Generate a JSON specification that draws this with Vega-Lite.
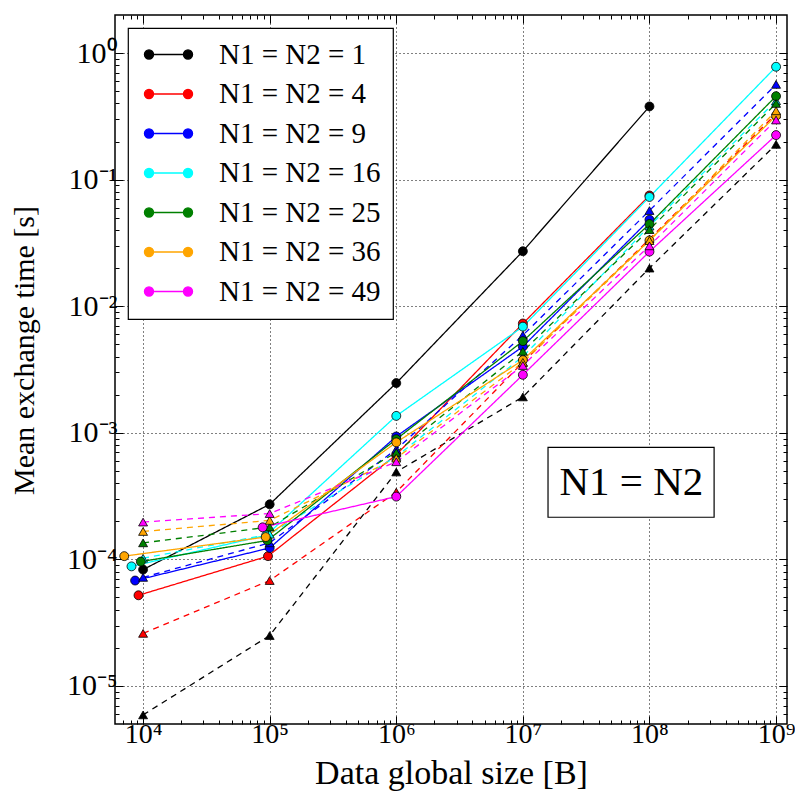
{
  "$schema": "https://vega.github.io/schema/vega-lite/v6.json",
  "width": 672,
  "height": 709,
  "autosize": "none",
  "padding": {"left": 115, "top": 15, "right": 8, "bottom": 72},
  "config": {
    "view": {"stroke": "black", "strokeWidth": 1.5},
    "font": "Liberation Serif",
    "axis": {
      "labelFont": "Liberation Serif",
      "labelFontSize": 30,
      "labelColor": "black",
      "labelOverlap": false,
      "labelFlush": false,
      "labelBound": false,
      "titleFont": "Liberation Serif",
      "titleFontWeight": "normal",
      "titleColor": "black",
      "domain": false,
      "tickColor": "black",
      "tickWidth": 1,
      "gridColor": "black",
      "gridDash": [1, 3],
      "gridWidth": 1
    },
    "legend": {
      "orient": "top-left",
      "offset": 13,
      "padding": 12,
      "strokeColor": "black",
      "strokeWidth": 1.2,
      "fillColor": "white",
      "cornerRadius": 0,
      "labelFont": "Liberation Serif",
      "labelFontSize": 29,
      "labelColor": "black",
      "labelLimit": 400,
      "rowPadding": 9.5,
      "symbolType": "M-1.5,0L1.5,0M-1.85,0a0.35,0.35 0 1,0 0.7,0a0.35,0.35 0 1,0 -0.7,0M1.15,0a0.35,0.35 0 1,0 0.7,0a0.35,0.35 0 1,0 -0.7,0",
      "symbolSize": 676,
      "symbolStrokeWidth": 1.3,
      "symbolOffset": 14,
      "labelOffset": 36
    }
  },
  "datasets": {
    "note": [
      {"x1": 1.58e7, "x2": 3.24e8, "y1": 2.15e-4, "y2": 7.67e-4, "tx": 7.2e7, "ty": 4.06e-4, "label": "N1 = N2"}
    ],
    "main": [
      {"series": "N1 = N2 = 1", "kind": "solid", "x": 1e4, "y": 8.3e-5},
      {"series": "N1 = N2 = 1", "kind": "solid", "x": 1e5, "y": 2.72e-4},
      {"series": "N1 = N2 = 1", "kind": "solid", "x": 1e6, "y": 2.47e-3},
      {"series": "N1 = N2 = 1", "kind": "solid", "x": 1e7, "y": 0.0272},
      {"series": "N1 = N2 = 1", "kind": "solid", "x": 1e8, "y": 0.379},
      {"series": "N1 = N2 = 1", "kind": "dashed", "x": 1e4, "y": 5.9e-6},
      {"series": "N1 = N2 = 1", "kind": "dashed", "x": 1e5, "y": 2.5e-5},
      {"series": "N1 = N2 = 1", "kind": "dashed", "x": 1e6, "y": 4.9e-4},
      {"series": "N1 = N2 = 1", "kind": "dashed", "x": 1e7, "y": 1.92e-3},
      {"series": "N1 = N2 = 1", "kind": "dashed", "x": 1e8, "y": 0.020},
      {"series": "N1 = N2 = 1", "kind": "dashed", "x": 1e9, "y": 0.19},

      {"series": "N1 = N2 = 4", "kind": "solid", "x": 9.2e3, "y": 5.2e-5},
      {"series": "N1 = N2 = 4", "kind": "solid", "x": 9.7e4, "y": 1.06e-4},
      {"series": "N1 = N2 = 4", "kind": "solid", "x": 1e6, "y": 6.7e-4},
      {"series": "N1 = N2 = 4", "kind": "solid", "x": 1e7, "y": 7.3e-3},
      {"series": "N1 = N2 = 4", "kind": "solid", "x": 1e8, "y": 0.075},
      {"series": "N1 = N2 = 4", "kind": "dashed", "x": 1e4, "y": 2.6e-5},
      {"series": "N1 = N2 = 4", "kind": "dashed", "x": 1e5, "y": 6.8e-5},
      {"series": "N1 = N2 = 4", "kind": "dashed", "x": 1e6, "y": 3.4e-4},
      {"series": "N1 = N2 = 4", "kind": "dashed", "x": 1e7, "y": 3.6e-3},
      {"series": "N1 = N2 = 4", "kind": "dashed", "x": 1e8, "y": 0.034},
      {"series": "N1 = N2 = 4", "kind": "dashed", "x": 1e9, "y": 0.33},

      {"series": "N1 = N2 = 9", "kind": "solid", "x": 8.65e3, "y": 6.8e-5},
      {"series": "N1 = N2 = 9", "kind": "solid", "x": 1e5, "y": 1.23e-4},
      {"series": "N1 = N2 = 9", "kind": "solid", "x": 1e6, "y": 9.35e-4},
      {"series": "N1 = N2 = 9", "kind": "solid", "x": 1e7, "y": 4.8e-3},
      {"series": "N1 = N2 = 9", "kind": "solid", "x": 1e8, "y": 0.0483},
      {"series": "N1 = N2 = 9", "kind": "dashed", "x": 1e4, "y": 7.2e-5},
      {"series": "N1 = N2 = 9", "kind": "dashed", "x": 1e5, "y": 1.35e-4},
      {"series": "N1 = N2 = 9", "kind": "dashed", "x": 1e6, "y": 7.4e-4},
      {"series": "N1 = N2 = 9", "kind": "dashed", "x": 1e7, "y": 5.9e-3},
      {"series": "N1 = N2 = 9", "kind": "dashed", "x": 1e8, "y": 0.057},
      {"series": "N1 = N2 = 9", "kind": "dashed", "x": 1e9, "y": 0.566},

      {"series": "N1 = N2 = 16", "kind": "solid", "x": 8.1e3, "y": 8.8e-5},
      {"series": "N1 = N2 = 16", "kind": "solid", "x": 9.4e4, "y": 1.55e-4},
      {"series": "N1 = N2 = 16", "kind": "solid", "x": 1e6, "y": 1.36e-3},
      {"series": "N1 = N2 = 16", "kind": "solid", "x": 1e7, "y": 6.9e-3},
      {"series": "N1 = N2 = 16", "kind": "solid", "x": 1e8, "y": 0.073},
      {"series": "N1 = N2 = 16", "kind": "solid", "x": 1e9, "y": 0.78},
      {"series": "N1 = N2 = 16", "kind": "dashed", "x": 1e4, "y": 1.02e-4},
      {"series": "N1 = N2 = 16", "kind": "dashed", "x": 1e5, "y": 1.58e-4},
      {"series": "N1 = N2 = 16", "kind": "dashed", "x": 1e6, "y": 6.5e-4},
      {"series": "N1 = N2 = 16", "kind": "dashed", "x": 1e7, "y": 4.0e-3},
      {"series": "N1 = N2 = 16", "kind": "dashed", "x": 1e8, "y": 0.043},
      {"series": "N1 = N2 = 16", "kind": "dashed", "x": 1e9, "y": 0.42},

      {"series": "N1 = N2 = 25", "kind": "solid", "x": 9.6e3, "y": 9.6e-5},
      {"series": "N1 = N2 = 25", "kind": "solid", "x": 9.6e4, "y": 1.41e-4},
      {"series": "N1 = N2 = 25", "kind": "solid", "x": 1e6, "y": 8.9e-4},
      {"series": "N1 = N2 = 25", "kind": "solid", "x": 1e7, "y": 5.3e-3},
      {"series": "N1 = N2 = 25", "kind": "solid", "x": 1e8, "y": 0.0446},
      {"series": "N1 = N2 = 25", "kind": "solid", "x": 1e9, "y": 0.457},
      {"series": "N1 = N2 = 25", "kind": "dashed", "x": 1e4, "y": 1.35e-4},
      {"series": "N1 = N2 = 25", "kind": "dashed", "x": 1e5, "y": 1.8e-4},
      {"series": "N1 = N2 = 25", "kind": "dashed", "x": 1e6, "y": 7.0e-4},
      {"series": "N1 = N2 = 25", "kind": "dashed", "x": 1e7, "y": 4.4e-3},
      {"series": "N1 = N2 = 25", "kind": "dashed", "x": 1e8, "y": 0.0403},
      {"series": "N1 = N2 = 25", "kind": "dashed", "x": 1e9, "y": 0.40},

      {"series": "N1 = N2 = 36", "kind": "solid", "x": 7.1e3, "y": 1.06e-4},
      {"series": "N1 = N2 = 36", "kind": "solid", "x": 9.3e4, "y": 1.5e-4},
      {"series": "N1 = N2 = 36", "kind": "solid", "x": 1e6, "y": 8.4e-4},
      {"series": "N1 = N2 = 36", "kind": "solid", "x": 1e7, "y": 3.75e-3},
      {"series": "N1 = N2 = 36", "kind": "solid", "x": 1e8, "y": 0.0331},
      {"series": "N1 = N2 = 36", "kind": "solid", "x": 1e9, "y": 0.32},
      {"series": "N1 = N2 = 36", "kind": "dashed", "x": 1e4, "y": 1.66e-4},
      {"series": "N1 = N2 = 36", "kind": "dashed", "x": 1e5, "y": 2.03e-4},
      {"series": "N1 = N2 = 36", "kind": "dashed", "x": 1e6, "y": 6.3e-4},
      {"series": "N1 = N2 = 36", "kind": "dashed", "x": 1e7, "y": 3.6e-3},
      {"series": "N1 = N2 = 36", "kind": "dashed", "x": 1e8, "y": 0.033},
      {"series": "N1 = N2 = 36", "kind": "dashed", "x": 1e9, "y": 0.35},

      {"series": "N1 = N2 = 49", "kind": "solid", "x": 8.8e4, "y": 1.79e-4},
      {"series": "N1 = N2 = 49", "kind": "solid", "x": 1e6, "y": 3.13e-4},
      {"series": "N1 = N2 = 49", "kind": "solid", "x": 1e7, "y": 2.87e-3},
      {"series": "N1 = N2 = 49", "kind": "solid", "x": 1e8, "y": 0.027},
      {"series": "N1 = N2 = 49", "kind": "solid", "x": 1e9, "y": 0.225},
      {"series": "N1 = N2 = 49", "kind": "dashed", "x": 1e4, "y": 1.97e-4},
      {"series": "N1 = N2 = 49", "kind": "dashed", "x": 1e5, "y": 2.3e-4},
      {"series": "N1 = N2 = 49", "kind": "dashed", "x": 1e6, "y": 5.9e-4},
      {"series": "N1 = N2 = 49", "kind": "dashed", "x": 1e7, "y": 3.4e-3},
      {"series": "N1 = N2 = 49", "kind": "dashed", "x": 1e8, "y": 0.030},
      {"series": "N1 = N2 = 49", "kind": "dashed", "x": 1e9, "y": 0.296}
    ]
  },
  "layer": [
    {
      "data": {"name": "note"},
      "mark": {"type": "rect", "fill": "white", "stroke": "black", "strokeWidth": 1.2},
      "encoding": {
        "x": {"field": "x1", "type": "quantitative", "scale": {"type": "log", "domain": [6000, 1.22e9], "nice": false}, "axis": null},
        "x2": {"field": "x2"},
        "y": {"field": "y1", "type": "quantitative", "scale": {"type": "log", "domain": [5e-6, 2], "nice": false}, "axis": null},
        "y2": {"field": "y2"}
      }
    },
    {
      "data": {"name": "note"},
      "mark": {"type": "text", "fontSize": 41, "font": "Liberation Serif", "color": "black", "baseline": "middle", "align": "center", "dy": 1},
      "encoding": {
        "x": {"field": "tx", "type": "quantitative", "scale": {"type": "log", "domain": [6000, 1.22e9], "nice": false}, "axis": null},
        "y": {"field": "ty", "type": "quantitative", "scale": {"type": "log", "domain": [5e-6, 2], "nice": false}, "axis": null},
        "text": {"field": "label"}
      }
    },
    {
      "data": {"name": "main"},
      "mark": {"type": "line", "strokeWidth": 1.3},
      "encoding": {
        "x": {
          "field": "x", "type": "quantitative",
          "scale": {"type": "log", "domain": [6000, 1.22e9], "nice": false},
          "axis": {
            "orient": "bottom",
            "title": "Data global size [B]",
            "titleFontSize": 34,
            "titlePadding": 4,
            "values": [7000, 8000, 9000, 1e4, 2e4, 3e4, 4e4, 5e4, 6e4, 7e4, 8e4, 9e4, 1e5, 2e5, 3e5, 4e5, 5e5, 6e5, 7e5, 8e5, 9e5, 1e6, 2e6, 3e6, 4e6, 5e6, 6e6, 7e6, 8e6, 9e6, 1e7, 2e7, 3e7, 4e7, 5e7, 6e7, 7e7, 8e7, 9e7, 1e8, 2e8, 3e8, 4e8, 5e8, 6e8, 7e8, 8e8, 9e8, 1e9],
            "labelExpr": "abs(log(datum.value)/LN10 - round(log(datum.value)/LN10)) < 0.001 ? ['10⁴','10⁵','10⁶','10⁷','10⁸','10⁹'][round(log(datum.value)/LN10)-4] : ''",
            "labelFontSize": 28,
            "labelPadding": 4,
            "labelDx": -1,
            "grid": true,
            "gridOpacity": {"condition": {"test": "abs(log(datum.value)/LN10 - round(log(datum.value)/LN10)) < 0.001", "value": 1}, "value": 0},
            "tickSize": {"condition": {"test": "abs(log(datum.value)/LN10 - round(log(datum.value)/LN10)) < 0.001", "value": -8}, "value": -4}
          }
        },
        "y": {
          "field": "y", "type": "quantitative",
          "scale": {"type": "log", "domain": [5e-6, 2], "nice": false},
          "axis": {
            "orient": "left",
            "title": "Mean exchange time [s]",
            "titleFontSize": 30,
            "titleX": -82,
            "titleY": 335,
            "titleBaseline": "alphabetic",
            "values": [6e-6, 7e-6, 8e-6, 9e-6, 1e-5, 2e-5, 3e-5, 4e-5, 5e-5, 6e-5, 7e-5, 8e-5, 9e-5, 1e-4, 2e-4, 3e-4, 4e-4, 5e-4, 6e-4, 7e-4, 8e-4, 9e-4, 1e-3, 2e-3, 3e-3, 4e-3, 5e-3, 6e-3, 7e-3, 8e-3, 9e-3, 0.01, 0.02, 0.03, 0.04, 0.05, 0.06, 0.07, 0.08, 0.09, 0.1, 0.2, 0.3, 0.4, 0.5, 0.6, 0.7, 0.8, 0.9, 1],
            "labelExpr": "abs(log(datum.value)/LN10 - round(log(datum.value)/LN10)) < 0.001 ? ['10⁻⁵','10⁻⁴','10⁻³','10⁻²','10⁻¹','10⁰'][round(log(datum.value)/LN10)+5] : ''",
            "labelPadding": 6,
            "grid": true,
            "gridOpacity": {"condition": {"test": "abs(log(datum.value)/LN10 - round(log(datum.value)/LN10)) < 0.001", "value": 1}, "value": 0},
            "tickSize": {"condition": {"test": "abs(log(datum.value)/LN10 - round(log(datum.value)/LN10)) < 0.001", "value": -8}, "value": -4}
          }
        },
        "color": {
          "field": "series", "type": "nominal",
          "scale": {
            "domain": ["N1 = N2 = 1", "N1 = N2 = 4", "N1 = N2 = 9", "N1 = N2 = 16", "N1 = N2 = 25", "N1 = N2 = 36", "N1 = N2 = 49"],
            "range": ["#000000", "#ff0000", "#0000ff", "#00ffff", "#008000", "#ffa500", "#ff00ff"]
          },
          "legend": {
            "title": null,
            "encode": {"symbols": {"update": {"fill": {"scale": "color", "field": "value"}, "stroke": {"scale": "color", "field": "value"}}}}
          }
        },
        "strokeDash": {
          "field": "kind", "type": "nominal",
          "scale": {"domain": ["solid", "dashed"], "range": [[1, 0], [6, 5]]},
          "legend": null
        }
      }
    },
    {
      "data": {"name": "main"},
      "mark": {"type": "point", "filled": true, "stroke": "black", "strokeWidth": 0.8, "size": 80, "opacity": 1},
      "encoding": {
        "x": {
          "field": "x", "type": "quantitative",
          "scale": {"type": "log", "domain": [6000, 1.22e9], "nice": false},
          "axis": {
            "orient": "top",
            "title": null,
            "labels": false,
            "grid": false,
            "values": [7000, 8000, 9000, 1e4, 2e4, 3e4, 4e4, 5e4, 6e4, 7e4, 8e4, 9e4, 1e5, 2e5, 3e5, 4e5, 5e5, 6e5, 7e5, 8e5, 9e5, 1e6, 2e6, 3e6, 4e6, 5e6, 6e6, 7e6, 8e6, 9e6, 1e7, 2e7, 3e7, 4e7, 5e7, 6e7, 7e7, 8e7, 9e7, 1e8, 2e8, 3e8, 4e8, 5e8, 6e8, 7e8, 8e8, 9e8, 1e9],
            "tickSize": {"condition": {"test": "abs(log(datum.value)/LN10 - round(log(datum.value)/LN10)) < 0.001", "value": -8}, "value": -4}
          }
        },
        "y": {
          "field": "y", "type": "quantitative",
          "scale": {"type": "log", "domain": [5e-6, 2], "nice": false},
          "axis": {
            "orient": "right",
            "title": null,
            "labels": false,
            "grid": false,
            "values": [6e-6, 7e-6, 8e-6, 9e-6, 1e-5, 2e-5, 3e-5, 4e-5, 5e-5, 6e-5, 7e-5, 8e-5, 9e-5, 1e-4, 2e-4, 3e-4, 4e-4, 5e-4, 6e-4, 7e-4, 8e-4, 9e-4, 1e-3, 2e-3, 3e-3, 4e-3, 5e-3, 6e-3, 7e-3, 8e-3, 9e-3, 0.01, 0.02, 0.03, 0.04, 0.05, 0.06, 0.07, 0.08, 0.09, 0.1, 0.2, 0.3, 0.4, 0.5, 0.6, 0.7, 0.8, 0.9, 1],
            "tickSize": {"condition": {"test": "abs(log(datum.value)/LN10 - round(log(datum.value)/LN10)) < 0.001", "value": -8}, "value": -4}
          }
        },
        "color": {"field": "series", "type": "nominal", "legend": null},
        "shape": {
          "field": "kind", "type": "nominal",
          "scale": {"domain": ["solid", "dashed"], "range": ["circle", "triangle-up"]},
          "legend": null
        }
      }
    }
  ],
  "resolve": {"axis": {"x": "independent", "y": "independent"}}
}
